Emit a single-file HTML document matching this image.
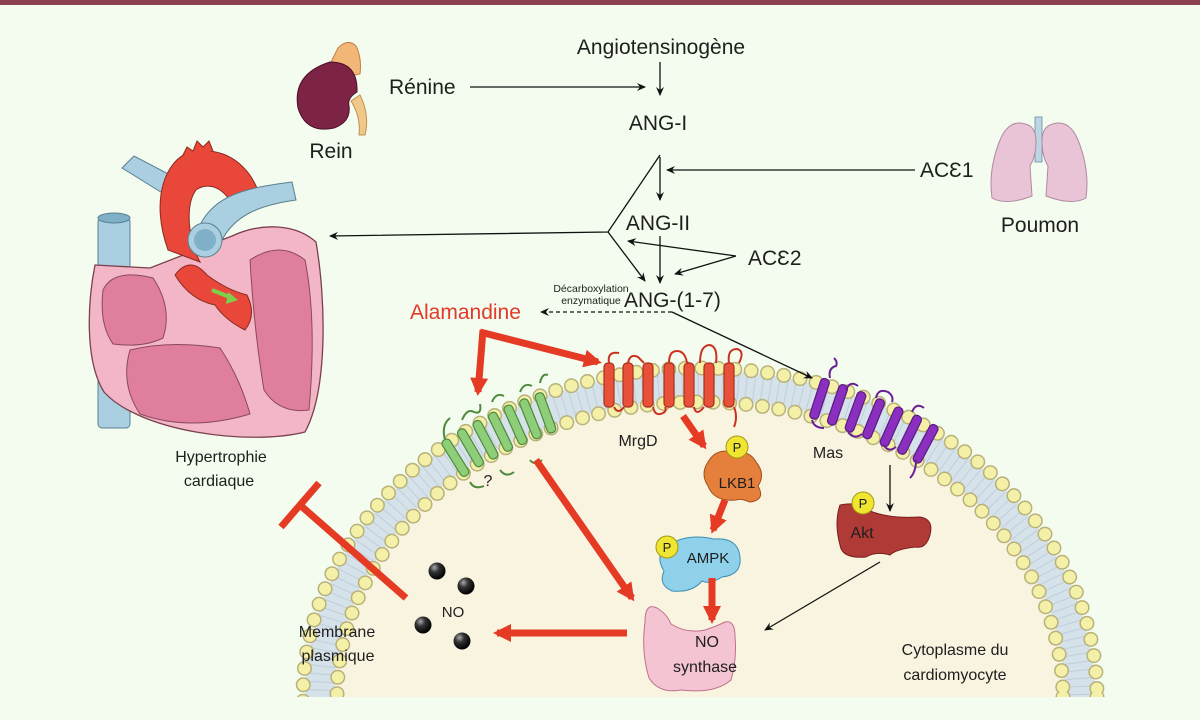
<!DOCTYPE html>
<html><head><meta charset="utf-8"><style>
html,body{margin:0;padding:0;background:#f3fcee;width:1200px;height:720px;overflow:hidden;}
svg{display:block;}
text{font-family:"Liberation Sans",sans-serif;fill:#1e1e1e;}
</style></head><body>
<svg width="1200" height="720" viewBox="0 0 1200 720" xmlns="http://www.w3.org/2000/svg">
<defs>
<marker id="ah" markerWidth="10" markerHeight="10" refX="8" refY="5" orient="auto" markerUnits="userSpaceOnUse"><path d="M0,1 L9,5 L0,9 L3,5 Z" fill="#111"/></marker>
<marker id="rh" markerWidth="22" markerHeight="22" refX="14" refY="11" orient="auto" markerUnits="userSpaceOnUse"><path d="M0,2 L18,11 L0,20 Z" fill="#e53a24"/></marker>
<clipPath id="cc"><rect x="0" y="0" width="1200" height="697"/></clipPath>
<radialGradient id="nog" cx="0.35" cy="0.3" r="0.7"><stop offset="0" stop-color="#aaa"/><stop offset="0.4" stop-color="#333"/><stop offset="1" stop-color="#000"/></radialGradient>
</defs>
<rect x="0" y="0" width="1200" height="720" fill="#f3fcee"/>
<rect x="0" y="0" width="1200" height="5" fill="#8b3f4f"/>

<g clip-path="url(#cc)">
<ellipse cx="700" cy="697" rx="380" ry="312" fill="#f8f4e0"/>
<ellipse cx="700" cy="697" rx="380" ry="312" fill="none" stroke="#d6e2ea" stroke-width="30"/>
<ellipse cx="700" cy="697" rx="380" ry="312" fill="none" stroke="#a9bccb" stroke-width="26" stroke-dasharray="1 7" opacity="0.5"/>
<ellipse cx="700" cy="697" rx="397" ry="329" fill="none" stroke="#b8b27a" stroke-width="15" stroke-linecap="round" stroke-dasharray="0 16.5"/>
<ellipse cx="700" cy="697" rx="397" ry="329" fill="none" stroke="#f4f0a8" stroke-width="12" stroke-linecap="round" stroke-dasharray="0 16.5"/>
<ellipse cx="700" cy="697" rx="363" ry="295" fill="none" stroke="#b8b27a" stroke-width="15" stroke-linecap="round" stroke-dasharray="0 16.5"/>
<ellipse cx="700" cy="697" rx="363" ry="295" fill="none" stroke="#f4f0a8" stroke-width="12" stroke-linecap="round" stroke-dasharray="0 16.5"/>
</g>

<g fill="#8fce78" stroke="#4f8a3e" stroke-width="1.2">
<rect x="451" y="437" width="9" height="42" rx="4" transform="rotate(-32 455 458)"/>
<rect x="466" y="427" width="9" height="42" rx="4" transform="rotate(-30 470 448)"/>
<rect x="481" y="419" width="9" height="42" rx="4" transform="rotate(-28 485 440)"/>
<rect x="496" y="411" width="9" height="42" rx="4" transform="rotate(-26 500 432)"/>
<rect x="511" y="404" width="9" height="42" rx="4" transform="rotate(-24 515 425)"/>
<rect x="526" y="398" width="9" height="42" rx="4" transform="rotate(-22 530 419)"/>
<rect x="541" y="392" width="9" height="42" rx="4" transform="rotate(-20 545 413)"/>
</g>
<path d="M445,440 q-4,-15 5,-22 M462,420 q5,-12 12,-8 q8,3 6,-8 M492,402 q4,-10 12,-6 M520,392 q4,-10 12,-6 M540,383 q2,-10 8,-8 M470,482 q4,8 14,4 M500,470 q6,8 14,2 M530,460 q4,6 12,0" fill="none" stroke="#4f8a3e" stroke-width="2"/>

<g fill="#e9503a" stroke="#a8301f" stroke-width="1.2">
<rect x="604" y="363" width="10" height="44" rx="4"/>
<rect x="623" y="363" width="10" height="44" rx="4"/>
<rect x="643" y="363" width="10" height="44" rx="4"/>
<rect x="664" y="363" width="10" height="44" rx="4"/>
<rect x="684" y="363" width="10" height="44" rx="4"/>
<rect x="704" y="363" width="10" height="44" rx="4"/>
<rect x="724" y="363" width="10" height="44" rx="4"/>
</g>
<path d="M609,363 q-2,-12 10,-10 M628,363 q2,-10 10,-6 q4,4 6,6 M669,363 q0,-12 8,-12 q8,0 10,12 M700,363 q0,-18 10,-18 q8,2 6,18 M729,363 q-2,-14 8,-14 q8,2 2,14 M614,407 q4,8 10,0 M653,407 q2,10 10,6 q4,-2 2,-6 M694,407 q2,10 10,0 M734,407 q4,10 0,20" fill="none" stroke="#c9331f" stroke-width="2"/>

<g fill="#8a2fc0" stroke="#5a1a80" stroke-width="1.2">
<rect x="815" y="378" width="9" height="42" rx="4" transform="rotate(18 820 399)"/>
<rect x="833" y="384" width="9" height="42" rx="4" transform="rotate(19 838 405)"/>
<rect x="851" y="391" width="9" height="42" rx="4" transform="rotate(20 856 412)"/>
<rect x="869" y="398" width="9" height="42" rx="4" transform="rotate(22 874 419)"/>
<rect x="887" y="406" width="9" height="42" rx="4" transform="rotate(24 892 427)"/>
<rect x="905" y="414" width="9" height="42" rx="4" transform="rotate(26 910 435)"/>
<rect x="921" y="423" width="9" height="42" rx="4" transform="rotate(28 926 444)"/>
</g>
<path d="M830,378 q-2,-10 6,-12 q2,-4 -2,-8 M846,390 q4,-10 12,-4 M876,398 q2,-10 12,-6 q6,4 4,10 M912,412 q4,-10 12,-4 M812,420 q2,8 12,8 M848,432 q6,8 14,2 M884,445 q4,8 12,2 M916,460 q0,12 -6,18" fill="none" stroke="#6a1f96" stroke-width="2"/>

<path d="M708,462 q8,-14 24,-10 q18,-2 24,10 q10,12 2,24 q8,14 -8,16 q-10,-4 -14,-2 q-22,2 -28,-14 q-8,-12 0,-24 z" fill="#e47f3c" stroke="#a34f1a" stroke-width="1"/>
<circle cx="737" cy="447" r="11" fill="#f0e632" stroke="#a09a10"/>
<text x="737" y="452" font-size="13" text-anchor="middle">P</text>
<text x="737" y="488" font-size="15" text-anchor="middle">LKB1</text>

<path d="M668,545 q20,-12 46,-6 q24,-2 26,18 q2,18 -18,20 q-12,8 -20,4 q-10,12 -30,10 q-14,-6 -8,-20 q-10,-16 4,-26 z" fill="#8fd0ea" stroke="#3f8fb0" stroke-width="1"/>
<circle cx="667" cy="547" r="11" fill="#f0e632" stroke="#a09a10"/>
<text x="667" y="552" font-size="13" text-anchor="middle">P</text>
<text x="708" y="563" font-size="15" text-anchor="middle">AMPK</text>

<path d="M645,622 q0,-20 12,-14 q10,6 14,16 q16,10 34,6 q12,-4 20,-8 q10,-2 10,14 q2,24 -4,44 q-16,14 -50,10 q-22,4 -32,-12 q-8,-26 -4,-56 z" fill="#f4c4d2" stroke="#c07088" stroke-width="1"/>
<text x="707" y="647" font-size="16" text-anchor="middle">NO</text>
<text x="705" y="672" font-size="16" text-anchor="middle">synthase</text>

<path d="M840,505 q20,-4 30,6 q20,8 50,6 q14,2 10,18 q-4,14 -14,12 q-20,2 -26,8 q-14,-4 -24,2 q-24,2 -26,-12 q-6,-22 0,-40 z" fill="#b03a36" stroke="#7a1e1e" stroke-width="1"/>
<circle cx="863" cy="503" r="11" fill="#f0e632" stroke="#a09a10"/>
<text x="863" y="508" font-size="13" text-anchor="middle">P</text>
<text x="862" y="538" font-size="16" text-anchor="middle">Akt</text>

<circle cx="437" cy="571" r="8.5" fill="url(#nog)"/>
<circle cx="466" cy="586" r="8.5" fill="url(#nog)"/>
<circle cx="423" cy="625" r="8.5" fill="url(#nog)"/>
<circle cx="462" cy="641" r="8.5" fill="url(#nog)"/>
<text x="453" y="617" font-size="15" text-anchor="middle">NO</text>

<g stroke="#e53a24" stroke-width="7" fill="none">
<path d="M483,330 L478,392" marker-end="url(#rh)"/>
<path d="M480,332 L598,362" marker-end="url(#rh)"/>
<path d="M683,416 L704,446" marker-end="url(#rh)"/>
<path d="M725,500 L713,530" marker-end="url(#rh)"/>
<path d="M712,578 L712,620" marker-end="url(#rh)"/>
<path d="M536,460 L632,598" marker-end="url(#rh)"/>
<path d="M627,633 L497,633" marker-end="url(#rh)"/>
<path d="M406,598 L300,505"/>
<path d="M281,527 L319,483"/>
</g>

<g stroke="#111" stroke-width="1.3" fill="none">
<path d="M660,62 L660,95" marker-end="url(#ah)"/>
<path d="M470,87 L645,87" marker-end="url(#ah)"/>
<path d="M660,157 L660,200" marker-end="url(#ah)"/>
<path d="M915,170 L667,170" marker-end="url(#ah)"/>
<path d="M660,155 L608,232 L330,236" marker-end="url(#ah)"/>
<path d="M608,232 L645,281" marker-end="url(#ah)"/>
<path d="M660,236 L660,283" marker-end="url(#ah)"/>
<path d="M736,256 L628,241" marker-end="url(#ah)"/>
<path d="M736,256 L675,274" marker-end="url(#ah)"/>
<path d="M672,312 L541,312" stroke-dasharray="4 3" marker-end="url(#ah)"/>
<path d="M672,312 L812,378" marker-end="url(#ah)"/>
<path d="M890,465 L890,511" marker-end="url(#ah)"/>
<path d="M880,562 L765,630" marker-end="url(#ah)"/>
</g>

<text x="661" y="54" font-size="21" text-anchor="middle">Angiotensinogène</text>
<text x="389" y="94" font-size="21">Rénine</text>
<text x="658" y="130" font-size="21" text-anchor="middle">ANG-I</text>
<text x="920" y="177" font-size="21">ACƐ1</text>
<text x="658" y="230" font-size="21" text-anchor="middle">ANG-II</text>
<text x="748" y="265" font-size="21">ACƐ2</text>
<text x="624" y="307" font-size="21">ANG-(1-7)</text>
<text x="591" y="292" font-size="10.5" text-anchor="middle">Décarboxylation</text>
<text x="591" y="304" font-size="10.5" text-anchor="middle">enzymatique</text>
<text x="410" y="319" font-size="21" style="fill:#e03a2a">Alamandine</text>
<text x="331" y="158" font-size="21" text-anchor="middle">Rein</text>
<text x="1040" y="232" font-size="21" text-anchor="middle">Poumon</text>
<text x="221" y="462" font-size="16" text-anchor="middle">Hypertrophie</text>
<text x="219" y="486" font-size="16" text-anchor="middle">cardiaque</text>
<text x="638" y="446" font-size="16" text-anchor="middle">MrgD</text>
<text x="488" y="486" font-size="16" text-anchor="middle">?</text>
<text x="828" y="458" font-size="16" text-anchor="middle">Mas</text>
<text x="337" y="637" font-size="16" text-anchor="middle">Membrane</text>
<text x="338" y="661" font-size="16" text-anchor="middle">plasmique</text>
<text x="955" y="655" font-size="16" text-anchor="middle">Cytoplasme du</text>
<text x="955" y="680" font-size="16" text-anchor="middle">cardiomyocyte</text>

<path d="M360,95 q10,20 5,40 l-6,0 q2,-18 -8,-34 z" fill="#f0c88a" stroke="#c09050"/>
<path d="M338,48 q10,-10 18,-2 q6,12 4,28 l-20,4 q-12,-8 -8,-18 z" fill="#f2b676" stroke="#c08048"/>
<path d="M330,62 q28,0 27,30 q-10,6 -8,14 q2,16 -15,22 q-28,6 -36,-20 q-6,-34 32,-46 z" fill="#7d2346" stroke="#4a1028"/>

<rect x="1035" y="117" width="7" height="45" fill="#bcd6e2" stroke="#6a8ea0" stroke-width="0.8"/>
<path d="M1030,126 q-20,-10 -30,14 q-12,30 -8,58 q14,8 40,-2 l-2,-30 q6,-10 6,-24 q0,-12 -6,-16 z" fill="#e9c4d6" stroke="#b08aa0"/>
<path d="M1048,126 q20,-10 30,14 q12,30 8,58 q-14,8 -40,-2 l2,-30 q-6,-10 -6,-24 q0,-12 6,-16 z" fill="#e9c4d6" stroke="#b08aa0"/>

<rect x="98" y="218" width="32" height="210" rx="4" fill="#a9cfe0" stroke="#5a7f90"/>
<ellipse cx="114" cy="218" rx="16" ry="5" fill="#7fb0c8" stroke="#5a7f90"/>
<path d="M122,168 l12,-12 l42,22 l-12,16 z" fill="#a9cfe0" stroke="#5a7f90"/>
<path d="M95,265 C88,300 84,360 104,392 C140,432 250,446 305,432 C328,390 326,300 316,242 C296,224 262,222 232,236 L150,268 Z" fill="#f2b6c6" stroke="#7a4050" stroke-width="1.3"/>
<path d="M103,290 q10,-22 50,-12 q20,30 10,60 q-20,10 -50,6 q-14,-20 -10,-54 z" fill="#e07f9d" stroke="#8a4a5a"/>
<path d="M130,350 q40,-10 90,-2 q20,30 30,66 q-60,18 -110,0 q-20,-30 -10,-64 z" fill="#e07f9d" stroke="#8a4a5a"/>
<path d="M250,260 q30,-20 55,0 q12,60 4,150 q-30,4 -45,-20 q-10,-60 -14,-130 z" fill="#e07f9d" stroke="#8a4a5a"/>
<path d="M168,250 C150,200 165,160 190,152 C230,145 255,170 262,205 L235,215 C230,190 210,180 196,190 C185,205 188,240 200,262 Z" fill="#e8473a" stroke="#8a2a20"/>
<path d="M183,155 l4,-8 l6,4 l4,-10 l6,6 l6,-6 l4,10" fill="#e8473a" stroke="#8a2a20"/>
<path d="M200,225 C215,195 245,188 292,182 L296,200 C260,205 235,215 222,240 Z" fill="#a9cfe0" stroke="#5a7f90"/>
<circle cx="205" cy="240" r="17" fill="#a9cfe0" stroke="#5a7f90"/>
<circle cx="205" cy="240" r="11" fill="#7fb0c8"/>
<path d="M175,275 q15,-20 32,0 q20,15 40,20 q10,20 -2,35 q-20,-10 -30,-25 q-25,-5 -40,-30 z" fill="#e8473a" stroke="#8a2a20"/>
<path d="M212,290 l20,8" stroke="#7ed04a" stroke-width="4"/>
<path d="M228,292 l10,8 l-12,4 z" fill="#7ed04a"/>
</svg>
</body></html>
